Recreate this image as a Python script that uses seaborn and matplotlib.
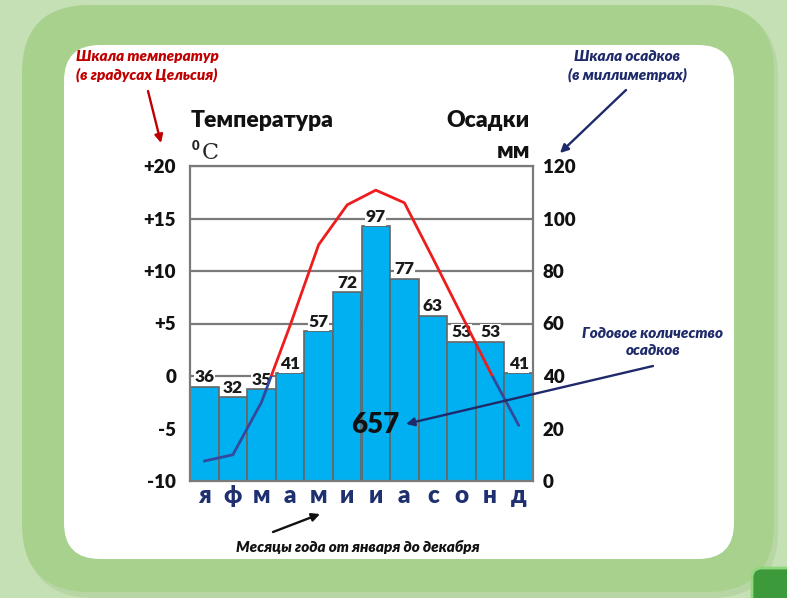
import matplotlib
matplotlib.use("Agg")
import matplotlib.pyplot as plt
import pandas as pd
import seaborn as sns
from matplotlib.patches import FancyBboxPatch, Rectangle

# Climate data (monthly)
months = ["я", "ф", "м", "а", "м", "и", "и", "а", "с", "о", "н", "д"]
precip_mm = [36, 32, 35, 41, 57, 72, 97, 77, 63, 53, 53, 41]
temp_c = [-8.1, -7.5, -2.5, 4.8, 12.5, 16.3, 17.7, 16.5, 11.2, 5.8, 0.4, -4.7]

temp_ticks = [-10, -5, 0, 5, 10, 15, 20]
temp_tick_labels = ["-10", "-5", "0", "+5", "+10", "+15", "+20"]
precip_ticks = [0, 20, 40, 60, 80, 100, 120]
precip_tick_labels = ["0", "20", "40", "60", "80", "100", "120"]

sns.set_theme(style="white")
plt.rcParams["font.family"] = ["Lato", "DejaVu Sans"]

W, H = 787, 598
fig = plt.figure(figsize=(W / 100, H / 100), dpi=100)
fig.patch.set_facecolor("#c6e0b5")

# Background frame in pixel coordinates
bg = fig.add_axes([0, 0, 1, 1], zorder=0)
bg.set_xlim(0, W)
bg.set_ylim(H, 0)
bg.axis("off")
bg.add_patch(FancyBboxPatch((26, 9), 752, 589, boxstyle="round,pad=0,rounding_size=68",
                            fc="#b8d6a4", ec="none"))
bg.add_patch(FancyBboxPatch((22, 5), 752, 587, boxstyle="round,pad=0,rounding_size=68",
                            fc="#a9d18e", ec="none"))
bg.add_patch(FancyBboxPatch((64, 45), 670, 514, boxstyle="round,pad=0,rounding_size=36",
                            fc="white", ec="none"))
bg.add_patch(FancyBboxPatch((752, 568), 70, 50, boxstyle="round,pad=0,rounding_size=10",
                            fc="#3c9a3a", ec="#8fd67c", lw=2))

# Main chart: precipitation bars on the primary axis (scale on the right)
ax = fig.add_axes([190 / W, 1 - 481 / H, 343 / W, 315 / H], zorder=2)
df = pd.DataFrame({"month": list(range(12)), "precip": precip_mm})
sns.barplot(data=df, x="month", y="precip", ax=ax, color="#00b0f0", saturation=1,
            width=1.0, edgecolor="#666666", linewidth=1.2)
ax.bar_label(ax.containers[0], labels=[str(v) for v in precip_mm], padding=1,
             fontsize=12.5, fontweight="heavy", color="#1a1a1a",
             bbox=dict(fc="white", ec="none", pad=0.4))

# Temperature line on a twin axis (scale on the left)
tw = ax.twinx()
x_pos = list(range(12))
sns.lineplot(x=x_pos, y=temp_c, ax=tw, color="#ee1c1c", lw=2.0, sort=False)
warm = tw.lines[-1]
sns.lineplot(x=x_pos, y=temp_c, ax=tw, color="#34489c", lw=2.0, sort=False)
cold = tw.lines[-1]
warm.set_clip_path(Rectangle((-1, 0), 14, 40, transform=tw.transData))
cold.set_clip_path(Rectangle((-1, -40), 14, 40, transform=tw.transData))

ax.set_ylim(0, 120)
ax.yaxis.tick_right()
ax.set_yticks(precip_ticks)
ax.set_yticklabels(precip_tick_labels, fontsize=13.5, fontweight="heavy", color="#111111")
ax.tick_params(axis="y", length=0, pad=7, left=False, labelleft=False,
               right=True, labelright=True)
ax.set_xticks(range(12))
ax.set_xticklabels(months, fontsize=17.5, fontweight="heavy", color="#1f3070")
ax.tick_params(axis="x", length=0, pad=3)
ax.set_xlabel("")
ax.set_ylabel("")
ax.grid(axis="y", color="#7a7a7a", lw=1.6)
ax.grid(axis="x", visible=False)
ax.set_axisbelow(True)
for s in ax.spines.values():
    s.set_visible(True)
    s.set_color("#7a7a7a")
    s.set_linewidth(1.6)

tw.set_ylim(-10, 20)
tw.yaxis.tick_left()
tw.set_yticks(temp_ticks)
tw.set_yticklabels(temp_tick_labels, fontsize=13.5, fontweight="heavy", color="#111111")
tw.tick_params(axis="y", length=0, pad=10, right=False, labelright=False,
               left=True, labelleft=True)
tw.set_ylabel("")
tw.set_xlabel("")
tw.grid(False)
for s in tw.spines.values():
    s.set_visible(False)
ax.set_xlim(-0.5, 11.5)

# Titles and explanatory notes in pixel coordinates
ov = fig.add_axes([0, 0, 1, 1], zorder=10)
ov.set_xlim(0, W)
ov.set_ylim(H, 0)
ov.axis("off")
ov.patch.set_alpha(0)

title = dict(fontsize=16.5, fontweight="heavy", va="baseline", color="#111111")
ov.text(191, 127, "Температура", ha="left", **title)
ov.text(530, 127, "Осадки", ha="right", **title)
ov.text(530, 158, "мм", ha="right", **title)
ov.text(196, 146, "0", ha="center", va="center", fontsize=9.5, fontweight="heavy")
ov.text(210, 153, "C", ha="center", va="center", fontsize=16, family="DejaVu Serif")

ov.text(375, 425, str(sum(precip_mm)), ha="center", va="center", fontsize=20,
        fontweight="heavy", color="#111111")

note = dict(fontsize=11, fontweight="heavy", style="italic", ha="center", va="center",
            linespacing=1.35)
ov.text(147, 66, "Шкала температур\n(в градусах Цельсия)", color="#c00000", **note)
ov.text(627, 66, "Шкала осадков\n(в миллиметрах)", color="#1f2a6b", **note)
ov.text(653, 342, "Годовое количество\nосадков", color="#1f2a6b", **note)
ov.text(358, 547, "Месяцы года от января до декабря", color="#111111", **note)

arrow = dict(arrowstyle="-|>", lw=1.7, mutation_scale=12, shrinkA=0, shrinkB=0)
ov.annotate("", xy=(161, 143), xytext=(148, 91), arrowprops=dict(color="#c00000", **arrow))
ov.annotate("", xy=(560, 153), xytext=(626, 90), arrowprops=dict(color="#1f2a6b", **arrow))
ov.annotate("", xy=(406, 424), xytext=(653, 366), arrowprops=dict(color="#1f2a6b", **arrow))
ov.annotate("", xy=(320, 514), xytext=(273, 532), arrowprops=dict(color="#111111", **arrow))

fig.savefig("out.png", dpi=100, facecolor=fig.get_facecolor())
